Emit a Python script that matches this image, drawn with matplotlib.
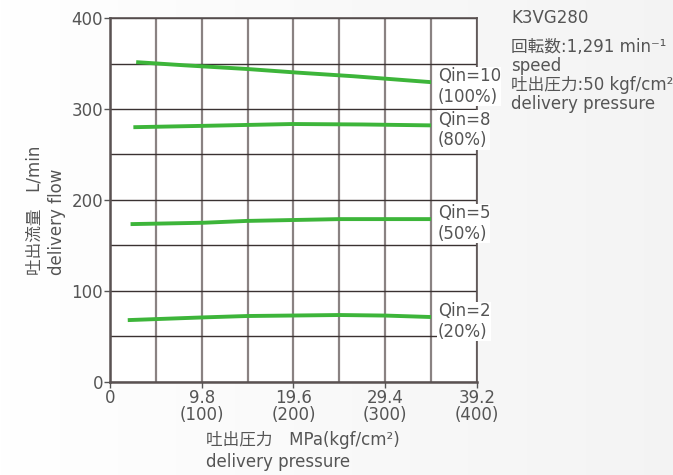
import numpy as np
import matplotlib.pyplot as plt

plt.rcParams['font.family'] = ['DejaVu Sans', 'Noto Sans CJK JP']

# delivery pressure (MPa) and delivery flow (L/min)
x10 = [2.8, 8.0, 14.6, 20.0, 26.0, 34.3]
q10 = [351.5, 348.0, 344.0, 340.0, 336.0, 329.5]
x8 = [2.5, 10.0, 19.5, 27.0, 34.3]
q8 = [280.0, 281.5, 283.5, 283.0, 282.0]
x5 = [2.2, 10.0, 14.6, 24.5, 34.3]
q5 = [173.5, 175.0, 177.0, 179.0, 179.0]
x2 = [1.9, 10.0, 14.6, 24.5, 29.4, 34.3]
q2 = [68.0, 71.0, 72.5, 73.6, 73.0, 71.4]

series = [(x10, q10, "Qin=10\n(100%)"),
          (x8, q8, "Qin=8\n(80%)"),
          (x5, q5, "Qin=5\n(50%)"),
          (x2, q2, "Qin=2\n(20%)")]

xticks = [0, 9.8, 19.6, 29.4, 39.2]
xticklabels = ["0", "9.8\n(100)", "19.6\n(200)", "29.4\n(300)", "39.2\n(400)"]
yticks = [0, 100, 200, 300, 400]

txt = '#555555'
green = '#3db53a'
fs = 12

fig = plt.figure(figsize=(6.73, 4.75), dpi=100)

# faint grey background fading to white at the left
bg = fig.add_axes([0, 0, 1, 1], zorder=-10)
grad = np.linspace(1.0, 0.955, 256)[None, :, None] * np.ones((1, 1, 3))
bg.imshow(grad, aspect='auto', extent=[0, 1, 0, 1])
bg.axis('off')

ax = fig.add_axes([0.1634, 0.1958, 0.5453, 0.7663])
ax.set_facecolor('white')

for xv, yv, lab in series:
    ax.plot(xv, yv, color=green, lw=2.8, solid_capstyle='butt', zorder=3)
    ax.text(35.0, yv[-1] - 5, lab, fontsize=fs, color=txt, va='center', ha='left',
            linespacing=1.2, zorder=5, clip_on=False,
            bbox=dict(facecolor='white', edgecolor='none', pad=0.3))

ax.set_xlim(0, 39.2)
ax.set_ylim(0, 400)
ax.set_xticks(xticks)
ax.set_xticklabels(xticklabels, linespacing=0.95)
ax.set_yticks(yticks)
ax.set_xticks(np.arange(0, 39.3, 4.9), minor=True)
ax.set_yticks(np.arange(0, 401, 50), minor=True)
ax.xaxis.grid(True, which='both', color='#8a8282', lw=1.6, zorder=1)
ax.yaxis.grid(True, which='both', color='#3a3232', lw=1.0, zorder=1)
ax.tick_params(which='major', labelsize=fs, colors=txt, length=4, width=1.0)
ax.tick_params(which='minor', length=0)
ax.tick_params(axis='x', pad=1)
ax.tick_params(axis='y', pad=1)
for s in ax.spines.values():
    s.set_color('#5a5252')
    s.set_linewidth(1.2)
ax.spines['left'].set_linewidth(1.8)
ax.spines['bottom'].set_linewidth(1.8)

fig.text(0.306, 0.073, "吐出圧力　MPa(kgf/cm²)", fontsize=fs, color=txt, ha='left', va='center')
fig.text(0.306, 0.027, "delivery pressure", fontsize=fs, color=txt, ha='left', va='center')
fig.text(0.052, 0.421, "吐出流量　L/min", fontsize=fs, color=txt, rotation=90, ha='center', va='bottom')
fig.text(0.085, 0.421, "delivery flow", fontsize=fs, color=txt, rotation=90, ha='center', va='bottom')

info = ["K3VG280", "回転数:1,291 min⁻¹", "speed", "吐出圧力:50 kgf/cm²", "delivery pressure"]
ys = [0.962, 0.902, 0.862, 0.822, 0.782]
for s, y in zip(info, ys):
    fig.text(0.760, y, s, fontsize=fs, color=txt, ha='left', va='center')

fig.savefig("out.png", dpi=100)
